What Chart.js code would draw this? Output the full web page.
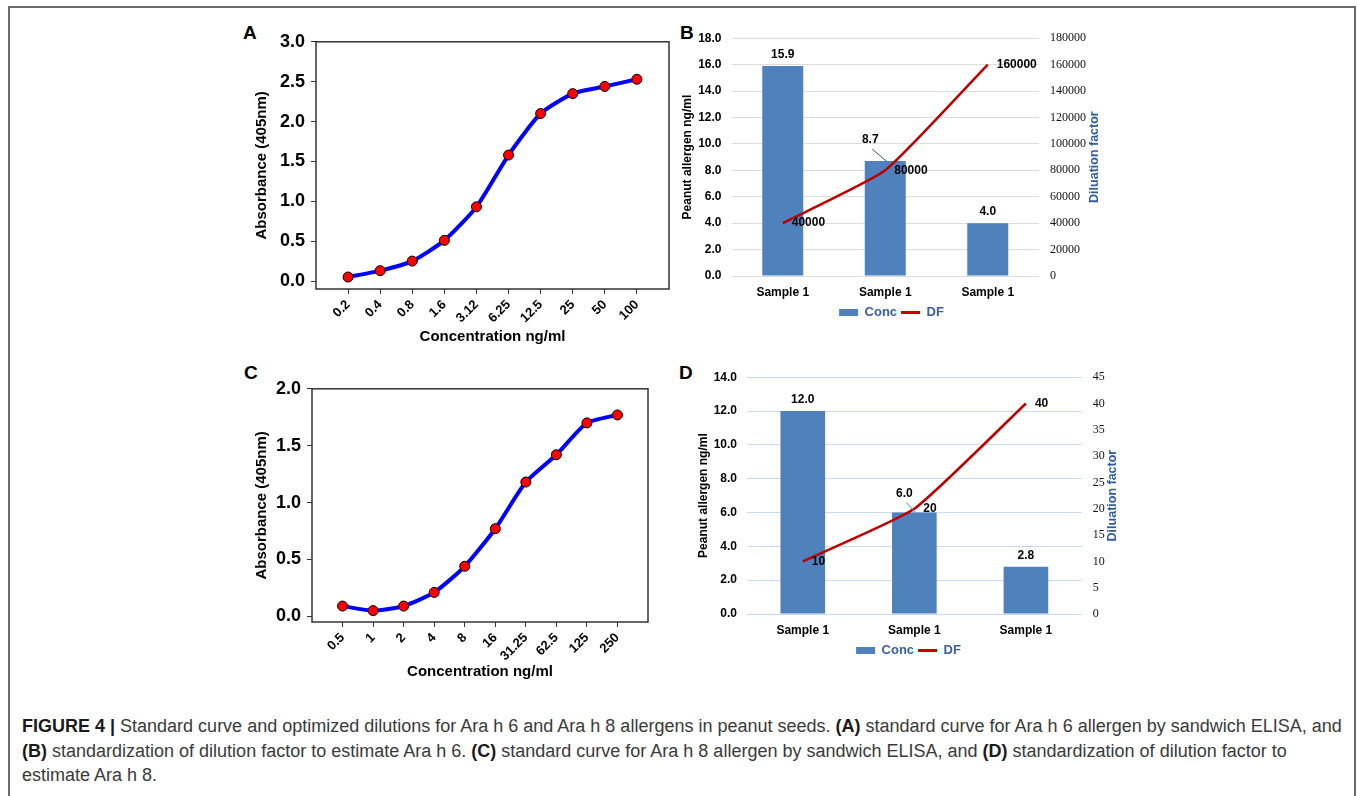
<!DOCTYPE html>
<html>
<head>
<meta charset="utf-8">
<script src="https://cdn.jsdelivr.net/npm/chart.js@4.4.0/dist/chart.umd.min.js"></script>
<style>
body { margin:0; background:#fff; width:1357px; height:796px; overflow:hidden; position:relative; font-family:'Liberation Sans', Arial, sans-serif; }
#moldura { position:absolute; left:8px; top:6px; width:1348px; height:820px; box-sizing:border-box; border:2px solid #6b6b6b; border-bottom:none; }
canvas { position:absolute; }
.letra { position:absolute; font-weight:bold; font-size:19px; color:#000; }
#legenda { position:absolute; left:22px; top:714px; font-size:18px; line-height:24.5px; color:#3a3a3a; white-space:nowrap; }
#legenda b { color:#1a1a1a; }
</style>
</head>
<body>
<div id="moldura"></div>
<div class="letra" style="left:243px; top:22px;">A</div>
<div class="letra" style="left:680px; top:22px;">B</div>
<div class="letra" style="left:244px; top:362px;">C</div>
<div class="letra" style="left:679px; top:362px;">D</div>

<canvas id="graficoA" width="440" height="327" style="left:240px; top:25px;"></canvas>
<canvas id="graficoB" width="460" height="311" style="left:665px; top:20px;"></canvas>
<canvas id="graficoC" width="420" height="315" style="left:240px; top:372px;"></canvas>
<canvas id="graficoD" width="460" height="309" style="left:680px; top:359px;"></canvas>

<div id="legenda"><b>FIGURE 4 |</b> Standard curve and optimized dilutions for Ara h 6 and Ara h 8 allergens in peanut seeds. <b>(A)</b> standard curve for Ara h 6 allergen by sandwich ELISA, and<br><b>(B)</b> standardization of dilution factor to estimate Ara h 6. <b>(C)</b> standard curve for Ara h 8 allergen by sandwich ELISA, and <b>(D)</b> standardization of dilution factor to<br>estimate Ara h 8.</div>

<script>
// Dados
const concA = ['0.2', '0.4', '0.8', '1.6', '3.12', '6.25', '12.5', '25', '50', '100'];
const absA = [0.05, 0.13, 0.25, 0.51, 0.93, 1.58, 2.10, 2.35, 2.44, 2.53];
const concC = ['0.5', '1', '2', '4', '8', '16', '31.25', '62.5', '125', '250'];
const absC = [0.09, 0.05, 0.09, 0.21, 0.44, 0.77, 1.18, 1.42, 1.70, 1.77];
const amostras = ['Sample 1', 'Sample 1', 'Sample 1'];
const concB = [15.9, 8.7, 4.0];
const dfB = [40000, 80000, 160000];
const concD = [12.0, 6.0, 2.8];
const dfD = [10, 20, 40];

Chart.defaults.font.family = "'Liberation Sans', Arial, sans-serif";
Chart.defaults.color = '#000';

// Moldura em volta da área do gráfico (curvas padrão)
const moldura = {
    id: 'moldura',
    beforeDatasetsDraw(c) {
        const a = c.chartArea, ctx = c.ctx;
        ctx.save();
        ctx.strokeStyle = '#333';
        ctx.lineWidth = 1.5;
        ctx.strokeRect(a.left, a.top, a.right - a.left, a.bottom - a.top);
        ctx.restore();
    }
};

// Curva padrão (A e C)
function curvaPadrao(id, rotulos, valores, yMin, yMax, pad, larguraY, alturaX) {
    const ticksY = [];
    for (let v = 0; v <= yMax + 1e-9; v += 0.5) ticksY.push({ value: v });
    return new Chart(document.getElementById(id), {
        type: 'line',
        data: {
            datasets: [{
                data: valores.map((v, i) => ({ x: i, y: v })),
                borderColor: '#0000ff',
                borderWidth: 4,
                tension: 0.2,
                pointBackgroundColor: '#ff0000',
                pointBorderColor: '#000',
                pointBorderWidth: 1,
                pointRadius: 5
            }]
        },
        options: {
            responsive: false,
            animation: false,
            layout: { padding: pad },
            plugins: { legend: { display: false }, tooltip: { enabled: false } },
            scales: {
                x: {
                    type: 'linear', min: -1, max: rotulos.length,
                    afterBuildTicks: s => { s.ticks = rotulos.map((_, i) => ({ value: i })); },
                    afterFit: s => { s.height = alturaX; },
                    ticks: { callback: v => rotulos[v], minRotation: 45, maxRotation: 45, font: { size: 13, weight: 'bold' }, padding: 3 },
                    grid: { drawOnChartArea: false, tickLength: 5, color: '#333' },
                    border: { display: false },
                    title: { display: true, text: 'Concentration ng/ml', font: { size: 15, weight: 'bold' } }
                },
                y: {
                    min: yMin, max: yMax,
                    afterBuildTicks: s => { s.ticks = ticksY; },
                    afterFit: s => { s.width = larguraY; },
                    ticks: { callback: v => v.toFixed(1), font: { size: 18, weight: 'bold' }, padding: 6 },
                    grid: { drawOnChartArea: false, tickLength: 5, color: '#333' },
                    border: { display: false },
                    title: { display: true, text: 'Absorbance (405nm)', font: { size: 15, weight: 'bold' } }
                }
            }
        },
        plugins: [moldura]
    });
}

// Rótulos de valores das barras e da linha, e título do eixo direito
function rotulos(cfg) {
    return {
        id: 'rotulos',
        afterDatasetsDraw(c) {
            const ctx = c.ctx;
            ctx.save();
            ctx.font = "bold 12px 'Liberation Sans', Arial";
            ctx.fillStyle = '#000';
            const barras = c.getDatasetMeta(0).data;
            barras.forEach((el, i) => {
                const d = cfg.desloc[i] || { dx: 0, dy: -11 };
                const x = el.x + d.dx, y = el.y + d.dy;
                ctx.textAlign = 'center';
                ctx.textBaseline = 'middle';
                ctx.fillText(c.data.datasets[0].data[i].toFixed(1), x, y);
                if (d.guia) {
                    ctx.strokeStyle = cfg.corGuia;
                    ctx.lineWidth = 1;
                    ctx.beginPath();
                    ctx.moveTo(x + 2, y + 9);
                    ctx.lineTo(el.x + d.guia, el.y);
                    ctx.stroke();
                }
            });
            const pontos = c.getDatasetMeta(1).data;
            pontos.forEach((el, i) => {
                ctx.textAlign = 'left';
                ctx.textBaseline = 'middle';
                ctx.fillText(String(c.data.datasets[1].data[i]), el.x + 9, el.y);
            });
            // título do eixo direito, lido de baixo para cima
            const a = c.chartArea;
            ctx.translate(a.right + cfg.tituloDir, (a.top + a.bottom) / 2);
            ctx.rotate(-Math.PI / 2);
            ctx.font = "bold 12.5px 'Liberation Sans', Arial";
            ctx.fillStyle = '#2e5c9e';
            ctx.textAlign = 'center';
            ctx.fillText('Diluation factor', 0, 0);
            ctx.restore();
        }
    };
}

// Gráfico de diluição (B e D)
function diluicao(id, valores, fatores, maxY, maxDF, passoDF, corGrade, pad, largEsq, largDir, cfgRotulos) {
    return new Chart(document.getElementById(id), {
        type: 'bar',
        data: {
            labels: amostras,
            datasets: [
                { type: 'bar', label: 'Conc', data: valores, backgroundColor: '#4f81bd', barPercentage: 0.4, categoryPercentage: 1, yAxisID: 'y', order: 1 },
                { type: 'line', label: 'DF', data: fatores, borderColor: '#c00000', borderWidth: 2.5, pointRadius: 0, tension: 0.15, yAxisID: 'y1', order: 0 }
            ]
        },
        options: {
            responsive: false,
            animation: false,
            layout: { padding: pad },
            plugins: {
                tooltip: { enabled: false },
                legend: {
                    position: 'bottom',
                    labels: {
                        usePointStyle: true, pointStyleWidth: 19, boxHeight: 7, padding: 4,
                        color: '#3a5f9b', font: { size: 13, weight: 'bold' },
                        generateLabels: () => [
                            { text: 'Conc', pointStyle: 'rect', fillStyle: '#4f81bd', strokeStyle: '#4f81bd', lineWidth: 0, fontColor: '#3a5f9b' },
                            { text: 'DF', pointStyle: 'line', fillStyle: '#c00000', strokeStyle: '#c00000', lineWidth: 3, fontColor: '#3a5f9b' }
                        ]
                    }
                }
            },
            scales: {
                x: {
                    afterFit: s => { s.height = 26; },
                    grid: { display: false, drawTicks: false },
                    border: { display: false },
                    ticks: { font: { size: 12, weight: 'bold' }, padding: 9 }
                },
                y: {
                    min: 0, max: maxY,
                    afterFit: s => { s.width = largEsq; },
                    ticks: { stepSize: 2, callback: v => v.toFixed(1), font: { size: 12, weight: 'bold' }, padding: 10 },
                    grid: { color: corGrade, drawTicks: false },
                    border: { display: false },
                    title: { display: true, text: 'Peanut allergen ng/ml', font: { size: 12, weight: 'bold' } }
                },
                y1: {
                    position: 'right', min: 0, max: maxDF,
                    afterFit: s => { s.width = largDir; },
                    ticks: { stepSize: passoDF, callback: v => String(v), font: { size: 12, family: "'Liberation Serif', 'DejaVu Serif', serif" }, color: '#111', padding: 11 },
                    grid: { drawOnChartArea: false, drawTicks: false },
                    border: { display: false }
                }
            }
        },
        plugins: [rotulos(cfgRotulos)]
    });
}

document.addEventListener('DOMContentLoaded', () => {
    curvaPadrao('graficoA', concA, absA, -0.1, 3.0, { left: 9, top: 0, right: 11, bottom: 2 }, 67, 61);
    curvaPadrao('graficoC', concC, absC, -0.05, 2.0, { left: 9, top: 0, right: 12, bottom: 2 }, 63, 63);
    diluicao('graficoB', concB, dfB, 18, 180000, 20000, '#dcdcdc',
        { left: 11, top: 0, right: 18, bottom: 2 }, 55.5, 68,
        { desloc: [null, { dx: -15, dy: -21, guia: 1 }, null], corGuia: '#2f4f7f', tituloDir: 56 });
    diluicao('graficoD', concD, dfD, 14, 45, 5, '#c9daf0',
        { left: 12, top: 0, right: 15, bottom: 1 }, 55, 43.3,
        { desloc: [null, { dx: -10, dy: -19, guia: 1 }, null], corGuia: '#4f81bd', tituloDir: 31 });
});
</script>
</body>
</html>
